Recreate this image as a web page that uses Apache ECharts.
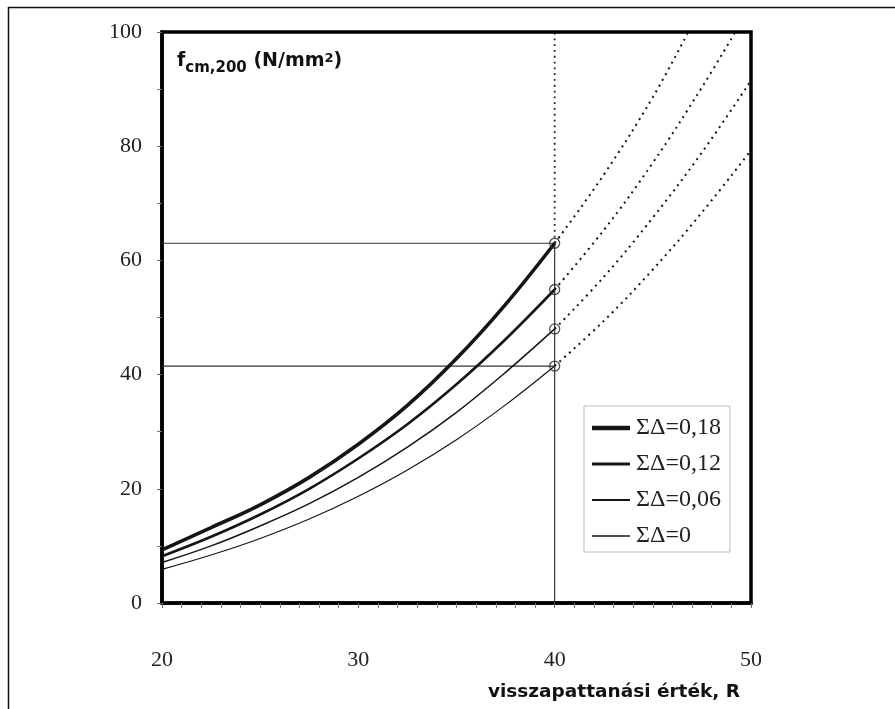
<!DOCTYPE html>
<html>
<head>
<meta charset="utf-8">
<script src="https://cdn.jsdelivr.net/npm/echarts@6/dist/echarts.min.js"></script>
<style>
  html, body { margin: 0; padding: 0; background: #fff; }
  #chart { width: 895px; height: 709px; }
</style>
</head>
<body>
<div id="chart"></div>
<script>
// visszapattanási érték (R) - folytonos szakasz
var rSolid = [20, 22.5, 25, 27.5, 30, 32.5, 35, 37.5, 40];
var fSolid018 = [9.3, 13.2, 17.2, 22.0, 27.8, 34.6, 42.8, 52.3, 63.0];
var fSolid012 = [8.2, 11.6, 15.5, 20.0, 25.3, 31.3, 38.3, 46.2, 54.9];
var fSolid006 = [7.1, 10.0, 13.5, 17.4, 22.0, 27.3, 33.4, 40.4, 48.0];
var fSolid000 = [5.9, 8.4, 11.3, 14.7, 18.7, 23.3, 28.6, 34.7, 41.5];

// pontozott (extrapolált) szakasz
var rDot018 = [40, 42.5, 45, 46.8];
var fDot018 = [63.0, 75.0, 88.6, 100];
var rDot012 = [40, 42.5, 45, 47.5, 49.2];
var fDot012 = [54.9, 65.3, 77.1, 90.3, 100];
var rDot006 = [40, 42.5, 45, 47.5, 50];
var fDot006 = [48.0, 57.1, 67.5, 78.9, 91.5];
var rDot000 = [40, 42.5, 45, 47.5, 50];
var fDot000 = [41.5, 49.4, 58.4, 68.4, 79.3];

var names = ['ΣΔ=0,18', 'ΣΔ=0,12', 'ΣΔ=0,06', 'ΣΔ=0'];
var widths = [3.6, 2.6, 1.5, 1.2];
var legendThick = [4.5, 3.2, 1.9, 1.6];
var xTicks = [20, 30, 40, 50];
var yTicks = [0, 20, 40, 60, 80, 100];
var rLimit = 40;

var serif = "'Liberation Serif', 'Times New Roman', serif";
var sans = "'DejaVu Sans', sans-serif";

function pairs(xs, ys) {
  var out = [];
  for (var i = 0; i < xs.length; i++) out.push([xs[i], ys[i]]);
  return out;
}

// vízszintes vonal ikon a jelmagyarázathoz (14 px magas dobozban középen)
function barIcon(t) {
  var a = 7 - t / 2, b = 7 + t / 2;
  return 'path://M0,0L38,0L38,0Z M0,' + a + 'L38,' + a + 'L38,' + b + 'L0,' + b + 'Z M0,14L38,14L38,14Z';
}

var solid = [fSolid018, fSolid012, fSolid006, fSolid000];
var dotX = [rDot018, rDot012, rDot006, rDot000];
var dotY = [fDot018, fDot012, fDot006, fDot000];
var ink = '#151515';
var series = [];

// segédvonalak
var top018 = fSolid018[fSolid018.length - 1];
var top000 = fSolid000[fSolid000.length - 1];
series.push({
  type: 'line', silent: true, symbol: 'none', z: 1,
  lineStyle: { color: '#333', width: 1.2 },
  data: [[xTicks[0], top018], [rLimit, top018]]
});
series.push({
  type: 'line', silent: true, symbol: 'none', z: 1,
  lineStyle: { color: '#333', width: 1.2 },
  data: [[xTicks[0], top000], [rLimit, top000]]
});
series.push({
  type: 'line', silent: true, symbol: 'none', z: 1,
  lineStyle: { color: '#333', width: 1.2 },
  data: [[rLimit, yTicks[0]], [rLimit, top018]]
});
series.push({
  type: 'line', silent: true, symbol: 'none', z: 1,
  lineStyle: { color: '#222', width: 1.8, type: [1.8, 4] },
  data: [[rLimit, top018], [rLimit, yTicks[yTicks.length - 1]]]
});

for (var k = 0; k < 4; k++) {
  series.push({
    name: names[k], type: 'line', symbol: 'none', smooth: 0.4, z: 3,
    lineStyle: { color: ink, width: widths[k] },
    itemStyle: { color: ink },
    data: pairs(rSolid, solid[k])
  });
  series.push({
    type: 'line', symbol: 'none', smooth: 0.4, z: 2, silent: true,
    lineStyle: { color: ink, width: 2, type: [2, 4.5] },
    data: pairs(dotX[k], dotY[k])
  });
}

// végpontok körei
series.push({
  type: 'scatter', symbol: 'circle', symbolSize: 10, z: 4, silent: true,
  itemStyle: { color: 'rgba(255,255,255,0)', borderColor: '#222', borderWidth: 1.3 },
  data: solid.map(function (s) { return [rLimit, s[s.length - 1]]; })
});

var chart = echarts.init(document.getElementById('chart'));
chart.setOption({
  backgroundColor: '#fff',
  animation: false,
  grid: {
    left: 162, top: 32, right: 144, bottom: 106,
    show: true, borderColor: '#000', borderWidth: 3.5, backgroundColor: 'transparent'
  },
  legend: {
    data: names.map(function (n, i) {
      return { name: n, icon: barIcon(legendThick[i]), itemStyle: { color: ink } };
    }),
    orient: 'vertical',
    left: 584, top: 406,
    padding: [10, 9, 4, 8],
    itemWidth: 38, itemHeight: 14, itemGap: 12,
    backgroundColor: '#fff',
    borderColor: '#bbb', borderWidth: 1,
    textStyle: { fontFamily: serif, fontSize: 24, color: '#222', padding: [0, 0, 0, 1] }
  },
  xAxis: {
    type: 'value', min: 20, max: 50, interval: 10,
    axisLine: { show: true, lineStyle: { color: '#000', width: 3.5 } },
    axisTick: { show: true, length: 5, lineStyle: { color: '#666', width: 1 } },
    minorTick: { show: true, splitNumber: 10, length: 5, lineStyle: { color: '#777', width: 1 } },
    splitLine: { show: false },
    axisLabel: {
      margin: 46, fontFamily: serif, fontSize: 22, color: '#222',
      formatter: function (v) { return xTicks.indexOf(v) >= 0 ? String(v) : ''; }
    }
  },
  yAxis: {
    type: 'value', min: 0, max: 100, interval: 20,
    axisLine: { show: true, lineStyle: { color: '#000', width: 3.5 } },
    axisTick: { show: true, length: 5, lineStyle: { color: '#666', width: 1 } },
    minorTick: { show: true, splitNumber: 2, length: 5, lineStyle: { color: '#777', width: 1 } },
    splitLine: { show: false },
    axisLabel: {
      margin: 20, fontFamily: serif, fontSize: 22, color: '#222',
      formatter: function (v) { return yTicks.indexOf(v) >= 0 ? String(v) : ''; }
    }
  },
  graphic: [
    { type: 'line', shape: { x1: 8, y1: 7.5, x2: 895, y2: 7.5 }, style: { stroke: '#111', lineWidth: 1.5 } },
    { type: 'line', shape: { x1: 8.5, y1: 7, x2: 8.5, y2: 709 }, style: { stroke: '#111', lineWidth: 1.5 } },
    {
      type: 'text', left: 177, top: 52, z: 10,
      style: {
        text: '{a|f}{b|cm,200}{a| (N/mm}{c|2}{a|)}',
        rich: {
          a: { fontFamily: sans, fontWeight: 'bold', fontSize: 19, fill: '#111', verticalAlign: 'bottom' },
          b: { fontFamily: sans, fontWeight: 'bold', fontSize: 15, fill: '#111', padding: [0, 0, -5, 0], verticalAlign: 'bottom' },
          c: { fontFamily: sans, fontWeight: 'bold', fontSize: 13, fill: '#111', padding: [0, 0, 6, 0], verticalAlign: 'bottom' }
        }
      }
    },
    {
      type: 'text', right: 155, top: 683, z: 10,
      style: {
        text: 'visszapattanási érték, R',
        fontFamily: sans, fontWeight: 'bold', fontSize: 18.5, fill: '#111'
      }
    }
  ],
  series: series
});
</script>
</body>
</html>
